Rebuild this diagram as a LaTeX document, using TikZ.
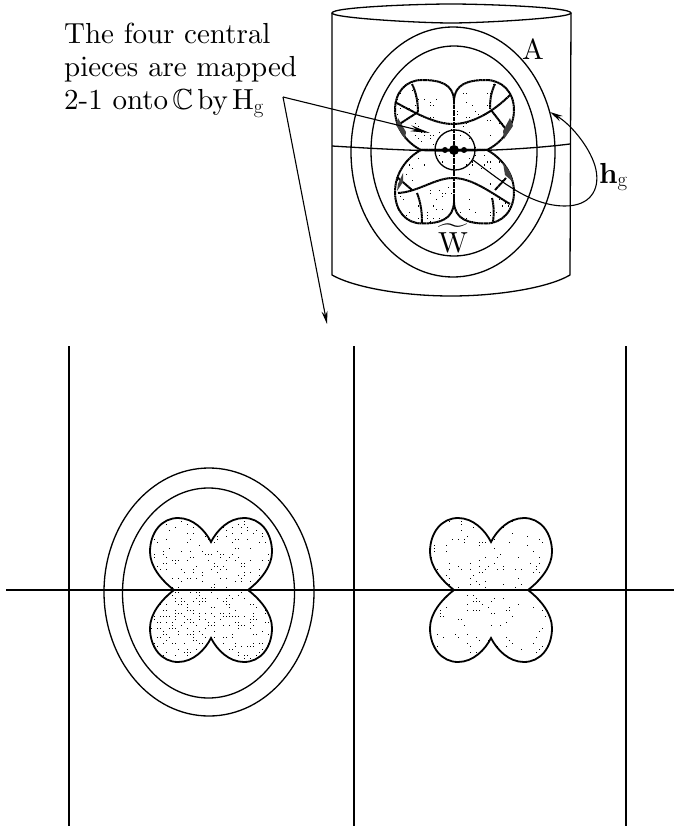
\documentclass[tikz,border=0pt]{standalone}
\usepackage{amsmath}
\usepackage{amssymb}
\usepackage{tikz}
\usetikzlibrary{arrows.meta}

\font\capfont=cmr10 at 29pt
\font\capbold=cmbx10 at 29pt

\newcommand{\lobe}{(-37,0) .. controls (-50,-10) and (-61,-24) .. (-61,-38) .. controls (-61,-58) and (-49,-72) .. (-33,-72) .. controls (-18,-72) and (-6,-60) .. (0,-48) .. controls (6,-60) and (18,-72) .. (33,-72) .. controls (49,-72) and (61,-58) .. (61,-38) .. controls (61,-24) and (50,-10) .. (37,0) -- cycle}
\newcommand{\toplobe}{(-33,0) .. controls (-47,-7) and (-59,-22) .. (-59,-40) .. controls (-59,-58) and (-48,-70) .. (-32,-70) .. controls (-14,-70) and (-1,-66) .. (0,-50) .. controls (1,-66) and (14,-70) .. (32,-70) .. controls (48,-70) and (60,-58) .. (60,-40) .. controls (60,-22) and (47,-7) .. (33,0) -- cycle}
\newcommand{\stipple}[3]{%
  \begin{scope}
    \clip #3;
    \pgfmathsetseed{#2}
    \foreach \i in {1,...,#1} {
      \pgfmathsetmacro{\dotx}{3*round(40*(rnd-0.5))}
      \pgfmathsetmacro{\doty}{-3*round(24*rnd)}
      \fill (\dotx,\doty) rectangle ++(1.2,1.2);
    }
  \end{scope}
}

\begin{document}
\begin{tikzpicture}[
    x=1pt, y=-1pt,
    curve/.style={line width=1.3pt},
    piece/.style={line width=1.8pt},
    seam/.style={line width=2pt, dash pattern=on 2pt off 0.4pt},
    wedge/.style={fill=black!75},
    pointer/.style={line width=1.1pt, -{Stealth[length=13pt,width=6pt]}},
    caption/.style={font=\fontsize{29}{33}\selectfont\capfont, inner sep=0pt}
]
\useasboundingbox (0,0) rectangle (674,826);

% Cylinder
\draw[curve] (332,13) .. controls (332,7) and (420,4) .. (451,4) .. controls (482,4) and (571,7) .. (571,13) .. controls (571,18) and (482,23) .. (451,23) .. controls (420,23) and (332,18) .. (332,13) -- cycle;
\draw[curve] (332,13) -- (332,275) .. controls (355,288) and (405,296) .. (451,296) .. controls (497,296) and (548,288) .. (570,275) -- (571,13);
\draw[curve] (332,146) .. controls (380,149) and (420,151) .. (451,151) .. controls (482,151) and (530,149) .. (570,144);

% Annulus on the cylinder
\draw[curve] (453,152) ellipse [x radius=102, y radius=125];
\draw[curve] (454,151) ellipse [x radius=83, y radius=105];

% Central pieces on the cylinder
\begin{scope}[shift={(454,150)}]
  \stipple{80}{11}{\toplobe}
  \draw[seam] \toplobe;
\end{scope}
\begin{scope}[shift={(454,150)}, yscale=-1.05]
  \stipple{90}{12}{\toplobe}
  \draw[seam] \toplobe;
\end{scope}
\draw[seam] (454,100) -- (454,205);
\draw[seam] (395,102) .. controls (415,113) and (435,124) .. (453,124) .. controls (472,124) and (493,112) .. (510,95);
\draw[seam] (412,84) .. controls (416,92) and (418,102) .. (418,112);
\draw[seam] (495,84) .. controls (491,92) and (490,100) .. (490,109);
\draw[seam] (418,112) -- (398,125);
\draw[seam] (491,110) -- (508,132);
\draw[seam] (398,193) .. controls (418,192) and (435,178) .. (453,178) .. controls (472,178) and (490,192) .. (510,204);
\draw[seam] (417,193) .. controls (421,203) and (422,213) .. (422,223);
\draw[seam] (492,198) .. controls (494,206) and (494,214) .. (493,222);
\draw[seam] (412,190) -- (397,177);
\draw[seam] (495,190) -- (506,178);
\fill[wedge] (398,118) -- (406,132) -- (405,139) -- (396,125) -- cycle;
\fill[wedge] (510,118) -- (513,126) -- (504,139) -- (503,131) -- cycle;
\fill[wedge] (403,173) -- (398,184) -- (397,191) -- (403,182) -- cycle;
\fill[wedge] (503,163) -- (510,172) -- (513,182) -- (505,175) -- cycle;

% Centre
\draw[curve] (455,150) circle (20);
\draw[line width=1.7pt] (435,150) -- (475,150);
\fill (454,150) circle (5);
\fill (445,150) circle (3);
\fill (464,150) circle (3);

% Labels
\node[caption, anchor=north west, align=left] (caption) at (64,23) {The four central\\pieces are mapped\\2-1 onto$\,\mathbb{C}\,$by$\,$H$_{\mathrm{g}}$};
\node[caption] (annulus) at (533,50) {A};
\node[caption] (set) at (453,238) {$\widetilde{\hbox{\capfont W}}$};
\node[caption, anchor=west] (map) at (599,177) {\capbold h$_{\mathrm{g}}$};

% Arrows
\coordinate (fork) at (283,97);
\coordinate (piece) at (430,133);
\coordinate (plane) at (327,324);
\coordinate (mapstart) at (473,160);
\coordinate (rim) at (550,112);
\draw[line width=1.1pt, -{Stealth[length=20pt,width=6pt]}] (fork) -- (piece);
\draw[pointer] (fork) -- (plane);
\draw[pointer] (mapstart) .. controls (500,180) and (530,206) .. (565,206) .. controls (590,206) and (600,190) .. (596,170) .. controls (592,150) and (572,125) .. (rim);

% Plane
\foreach \linex/\name in {69/left, 354/mid, 626/right} {
  \coordinate (\name top) at (\linex,346);
  \coordinate (\name bottom) at (\linex,826);
  \draw[curve] (\name top) -- (\name bottom);
}
\coordinate (axisleft) at (6,590);
\coordinate (axisright) at (674,590);

% Left copy
\draw[curve] (209,592) ellipse [x radius=105, y radius=124];
\draw[curve] (208.5,593) ellipse [x radius=86, y radius=105];
\begin{scope}[shift={(211,590)}]
  \stipple{170}{21}{\lobe}
  \draw[piece] \lobe;
\end{scope}
\begin{scope}[shift={(211,590)}, yscale=-1]
  \stipple{300}{22}{\lobe}
  \draw[piece] \lobe;
\end{scope}

% Right copy
\begin{scope}[shift={(491,590)}]
  \stipple{100}{31}{\lobe}
  \draw[piece] \lobe;
\end{scope}
\begin{scope}[shift={(491,590)}, yscale=-1]
  \stipple{80}{32}{\lobe}
  \draw[piece] \lobe;
\end{scope}
\draw[line width=1.7pt] (axisleft) -- (axisright);

\end{tikzpicture}
\end{document}
